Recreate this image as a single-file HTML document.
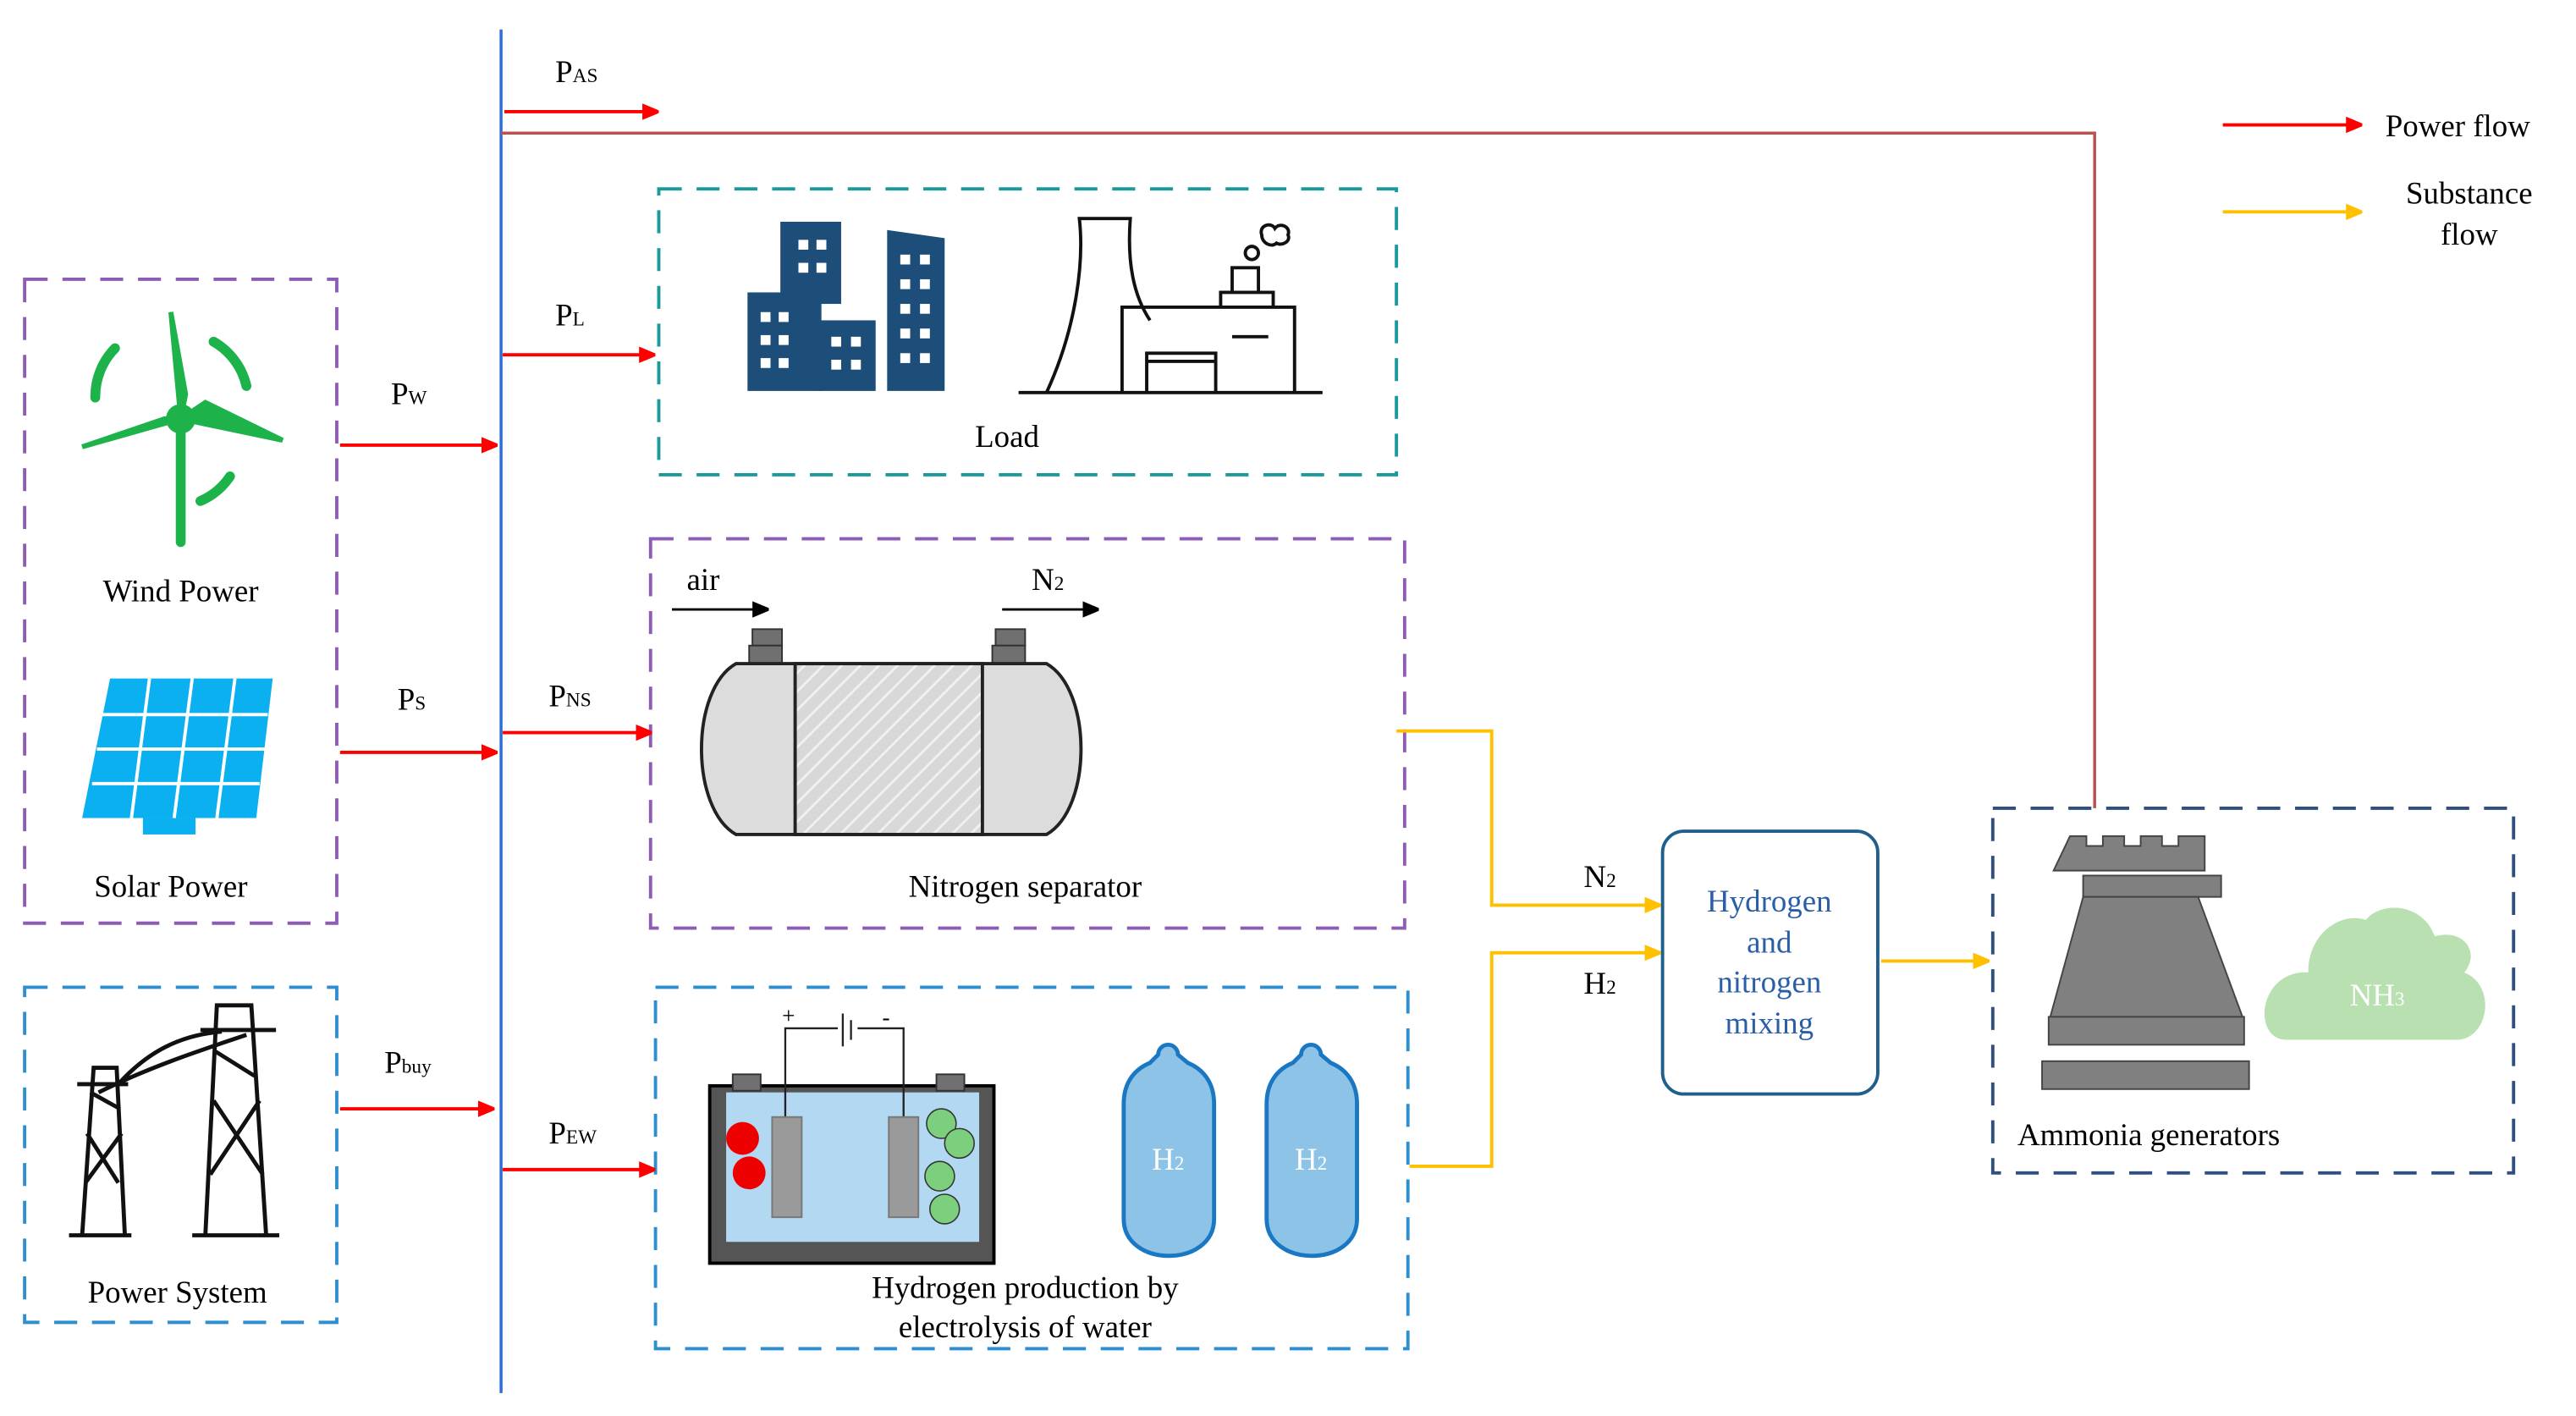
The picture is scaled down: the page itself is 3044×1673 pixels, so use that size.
<!DOCTYPE html>
<html><head><meta charset="utf-8"><style>
html,body{margin:0;padding:0;background:#fff;}
svg{display:block;}
text{font-family:"Liberation Serif",serif;}
</style></head><body>
<svg width="3044" height="1673" viewBox="0 0 1568 862" preserveAspectRatio="none" xmlns="http://www.w3.org/2000/svg">
<defs>
<marker id="ar" markerWidth="10" markerHeight="10" refX="9" refY="5" orient="auto" markerUnits="userSpaceOnUse"><path d="M0,0 L12,5 L0,10 z" fill="#f00"/></marker>
<marker id="ay" markerWidth="10" markerHeight="10" refX="9" refY="5" orient="auto" markerUnits="userSpaceOnUse"><path d="M0,0 L12,5 L0,10 z" fill="#ffc000"/></marker>
<marker id="ab" markerWidth="10" markerHeight="10" refX="9" refY="5" orient="auto" markerUnits="userSpaceOnUse"><path d="M0,0 L12,5 L0,10 z" fill="#000"/></marker>
<pattern id="hatch" width="8" height="8" patternUnits="userSpaceOnUse" patternTransform="rotate(45)"><rect width="8" height="8" fill="#d8d8d8"/><line x1="0" y1="0" x2="0" y2="8" stroke="#f0f0f0" stroke-width="3"/></pattern>
</defs>
<g font-size="19" fill="#000">
<!-- bus -->
<line x1="305" y1="18" x2="305" y2="848" stroke="#2e6fd6" stroke-width="1.8"/>
<polyline points="305,81 1275,81 1275,492" fill="none" stroke="#c0504d" stroke-width="1.8"/>
<!-- boxes -->
<g fill="none" stroke-width="2" stroke-dasharray="14,9">
<rect x="15" y="170" width="190" height="392" stroke="#8e5cb5"/>
<rect x="15" y="601" width="190" height="204" stroke="#2e8fd0"/>
<rect x="401" y="115" width="449" height="174" stroke="#1a9a9a"/>
<rect x="396" y="328" width="459" height="237" stroke="#8e5cb5"/>
<rect x="399" y="601" width="458" height="220" stroke="#2e8fd0"/>
<rect x="1213" y="492" width="317" height="222" stroke="#2f4f80"/>
</g>
<!-- red arrows -->
<g stroke="#f00" stroke-width="2" marker-end="url(#ar)">
<line x1="307" y1="68" x2="400" y2="68"/>
<line x1="207" y1="271" x2="302" y2="271"/>
<line x1="207" y1="458" x2="302" y2="458"/>
<line x1="207" y1="675" x2="300" y2="675"/>
<line x1="306" y1="216" x2="398" y2="216"/>
<line x1="306" y1="446" x2="396" y2="446"/>
<line x1="306" y1="712" x2="398" y2="712"/>
<line x1="1353" y1="76" x2="1437" y2="76"/>
</g>
<!-- yellow -->
<g stroke="#ffc000" stroke-width="2" fill="none" marker-end="url(#ay)">
<polyline points="850,445 908,445 908,551 1010,551"/>
<polyline points="858,710 908,710 908,580 1010,580"/>
<line x1="1145" y1="585" x2="1210" y2="585"/>
<line x1="1353" y1="129" x2="1437" y2="129"/>
</g>
<!-- labels -->
<text x="338" y="50">P<tspan font-size="12">AS</tspan></text>
<text x="238" y="246">P<tspan font-size="12">W</tspan></text>
<text x="242" y="432">P<tspan font-size="12">S</tspan></text>
<text x="234" y="653">P<tspan font-size="12">buy</tspan></text>
<text x="338" y="198">P<tspan font-size="12">L</tspan></text>
<text x="334" y="430">P<tspan font-size="12">NS</tspan></text>
<text x="334" y="696">P<tspan font-size="12">EW</tspan></text>
<text x="964" y="540">N<tspan font-size="12">2</tspan></text>
<text x="964" y="605">H<tspan font-size="12">2</tspan></text>
<text x="1452" y="83">Power flow</text>
<text x="1503" y="124" text-anchor="middle">Substance</text>
<text x="1503" y="149" text-anchor="middle">flow</text>
<text x="110" y="366" text-anchor="middle">Wind Power</text>
<text x="104" y="546" text-anchor="middle">Solar Power</text>
<text x="108" y="793" text-anchor="middle">Power System</text>
<text x="613" y="272" text-anchor="middle">Load</text>
<text x="624" y="546" text-anchor="middle">Nitrogen separator</text>
<text x="624" y="790" text-anchor="middle">Hydrogen production by</text>
<text x="624" y="814" text-anchor="middle">electrolysis of water</text>
<text x="1228" y="697">Ammonia generators</text>
<!-- mixing -->
<rect x="1012" y="506" width="131" height="160" rx="13" fill="none" stroke="#1f5f8b" stroke-width="2"/>
<g fill="#2b5ea8" text-anchor="middle"><text x="1077" y="555">Hydrogen</text><text x="1077" y="580">and</text><text x="1077" y="604">nitrogen</text><text x="1077" y="629">mixing</text></g>
<!-- tower -->
<g fill="#808080" stroke="#444" stroke-width="1">
<path d="M1260,509 h10 v6 h10 v-6 h13 v6 h10 v-6 h13 v6 h10 v-6 h16 v21 h-92z"/>
<rect x="1268" y="533" width="84" height="13"/>
<path d="M1268,546 L1338,546 L1365,619 L1248,619z"/>
<rect x="1247" y="619" width="119" height="17"/>
<rect x="1243" y="646" width="126" height="17"/>
</g>
<path d="M1392,633 C1370,633 1375,590 1405,592 C1405,568 1425,555 1440,560 C1450,548 1475,550 1482,570 C1500,565 1510,580 1500,592 C1520,600 1515,633 1495,633z" fill="#b8e0b0"/>
<text x="1447" y="612" fill="#fff" text-anchor="middle">NH<tspan font-size="12">3</tspan></text>
<!-- wind turbine -->
<g stroke="#1db34a" stroke-width="6" fill="none" stroke-linecap="round">
<line x1="110" y1="255" x2="110" y2="330"/>
<path d="M110,255 L104,190 L113,240 Z M110,255 L50,272 L100,255 Z M110,255 L172,268 L125,245 Z" fill="#1db34a" stroke-width="3"/>
<path d="M70,212 A42,42 0 0 0 58,242"/><path d="M130,208 A42,42 0 0 1 150,235"/><path d="M140,290 A42,42 0 0 1 122,305"/>
</g>
<circle cx="110" cy="255" r="9" fill="#1db34a"/>
<!-- solar -->
<g fill="#0bb0f0"><path d="M67,413 L166,413 L156,498 L50,498 Z"/><rect x="87" y="498" width="32" height="10"/></g>
<g stroke="#fff" stroke-width="2"><line x1="91" y1="413" x2="80" y2="498"/><line x1="117" y1="413" x2="106" y2="498"/><line x1="143" y1="413" x2="132" y2="498"/><line x1="62" y1="435" x2="163" y2="435"/><line x1="59" y1="456" x2="161" y2="456"/><line x1="56" y1="477" x2="158" y2="477"/></g>
<!-- pylons -->
<g stroke="#111" stroke-width="2.5" fill="none">
<line x1="42" y1="752" x2="80" y2="752"/><line x1="117" y1="752" x2="170" y2="752"/>
<path d="M50,752 L57,650 L71,650 L76,752 M52,720 L74,690 M53,690 L72,720 M55,665 L73,675"/>
<path d="M125,752 L132,612 L153,612 L162,752 M128,715 L158,670 M130,670 L160,715 M131,640 L155,655"/>
<path d="M47,660 L78,660 M122,627 L168,627 M72,660 C90,640 110,630 135,628 M60,665 C90,650 120,640 150,630"/>
</g>
<!-- buildings -->
<g fill="#1d4e79">
<rect x="475" y="135" width="37" height="50"/><rect x="455" y="178" width="45" height="60"/><rect x="498" y="195" width="35" height="43"/><path d="M540,140 L575,145 L575,238 L540,238Z"/>
</g>
<g fill="#fff"><rect x="486" y="146" width="6" height="6"/><rect x="497" y="146" width="6" height="6"/><rect x="486" y="160" width="6" height="6"/><rect x="497" y="160" width="6" height="6"/>
<rect x="463" y="190" width="6" height="6"/><rect x="474" y="190" width="6" height="6"/><rect x="463" y="204" width="6" height="6"/><rect x="474" y="204" width="6" height="6"/><rect x="463" y="218" width="6" height="6"/><rect x="474" y="218" width="6" height="6"/>
<rect x="506" y="205" width="6" height="6"/><rect x="518" y="205" width="6" height="6"/><rect x="506" y="219" width="6" height="6"/><rect x="518" y="219" width="6" height="6"/>
<rect x="548" y="155" width="6" height="6"/><rect x="560" y="155" width="6" height="6"/><rect x="548" y="170" width="6" height="6"/><rect x="560" y="170" width="6" height="6"/><rect x="548" y="185" width="6" height="6"/><rect x="560" y="185" width="6" height="6"/><rect x="548" y="200" width="6" height="6"/><rect x="560" y="200" width="6" height="6"/><rect x="548" y="215" width="6" height="6"/><rect x="560" y="215" width="6" height="6"/></g>
<!-- factory -->
<g stroke="#111" stroke-width="2" fill="none">
<line x1="620" y1="239" x2="805" y2="239"/>
<path d="M637,239 C655,200 660,160 657,133 L688,133 C686,160 690,180 700,195"/>
<path d="M683,239 V187 H788 V239 M698,239 V215 H740 V239 M698,220 H740 M750,205 H772"/>
<path d="M743,187 V178 H775 V187 M750,178 V163 H766 V178"/>
<circle cx="762" cy="154" r="4"/><path d="M768,143 c-2,-6 6,-8 8,-4 c3,-4 10,-1 8,4 c2,4 -4,7 -7,5 c-3,3 -9,0 -9,-5z"/>
</g>
<!-- N separator -->
<g stroke="#000" stroke-width="1.5" marker-end="url(#ab)"><line x1="409" y1="371" x2="467" y2="371"/><line x1="610" y1="371" x2="668" y2="371"/></g>
<text x="418" y="359">air</text><text x="628" y="359">N<tspan font-size="12">2</tspan></text>
<g fill="#707070" stroke="#333"><rect x="458" y="383" width="18" height="10"/><rect x="456" y="393" width="20" height="11"/><rect x="606" y="383" width="18" height="10"/><rect x="604" y="393" width="20" height="11"/></g>
<path d="M448,404 L637,404 C665,420 665,492 637,508 L448,508 C420,492 420,420 448,404Z" fill="#dcdcdc" stroke="#222" stroke-width="2"/>
<rect x="484" y="404" width="114" height="104" fill="url(#hatch)" stroke="#222" stroke-width="2"/>
<!-- electrolysis -->
<rect x="432" y="661" width="173" height="108" fill="#555" stroke="#000" stroke-width="2"/>
<rect x="442" y="665" width="154" height="91" fill="#b3d8f2"/>
<g fill="#707070" stroke="#333"><rect x="446" y="654" width="17" height="10"/><rect x="570" y="654" width="17" height="10"/></g>
<g stroke="#222" stroke-width="1.2" fill="none"><path d="M478,690 V626 H510 M522,626 H550 V690"/><line x1="513" y1="617" x2="513" y2="637"/><line x1="518" y1="621" x2="518" y2="633"/></g>
<text x="476" y="623" font-size="14">+</text><text x="537" y="624" font-size="14">-</text>
<rect x="470" y="680" width="18" height="61" fill="#9a9a9a" stroke="#777"/>
<rect x="541" y="680" width="18" height="61" fill="#9a9a9a" stroke="#777"/>
<g fill="#e00"><circle cx="452" cy="693" r="10"/><circle cx="456" cy="714" r="10"/></g>
<g fill="#7ccf7c" stroke="#333" stroke-width="0.8"><circle cx="573" cy="684" r="9"/><circle cx="584" cy="696" r="9"/><circle cx="572" cy="716" r="9"/><circle cx="575" cy="736" r="9"/></g>
<g fill="#8ec3e8" stroke="#1a78c2" stroke-width="2.5">
<path d="M705,642 a6,6 0 0 1 12,0 l6,5 c12,5 16,15 16,25 v70 c0,30 -55,30 -55,0 v-70 c0,-10 4,-20 16,-25z"/>
<path d="M792,642 a6,6 0 0 1 12,0 l6,5 c12,5 16,15 16,25 v70 c0,30 -55,30 -55,0 v-70 c0,-10 4,-20 16,-25z"/>
</g>
<text x="711" y="712" fill="#fff" text-anchor="middle">H<tspan font-size="12">2</tspan></text>
<text x="798" y="712" fill="#fff" text-anchor="middle">H<tspan font-size="12">2</tspan></text>
</g>
</svg>
</body></html>
